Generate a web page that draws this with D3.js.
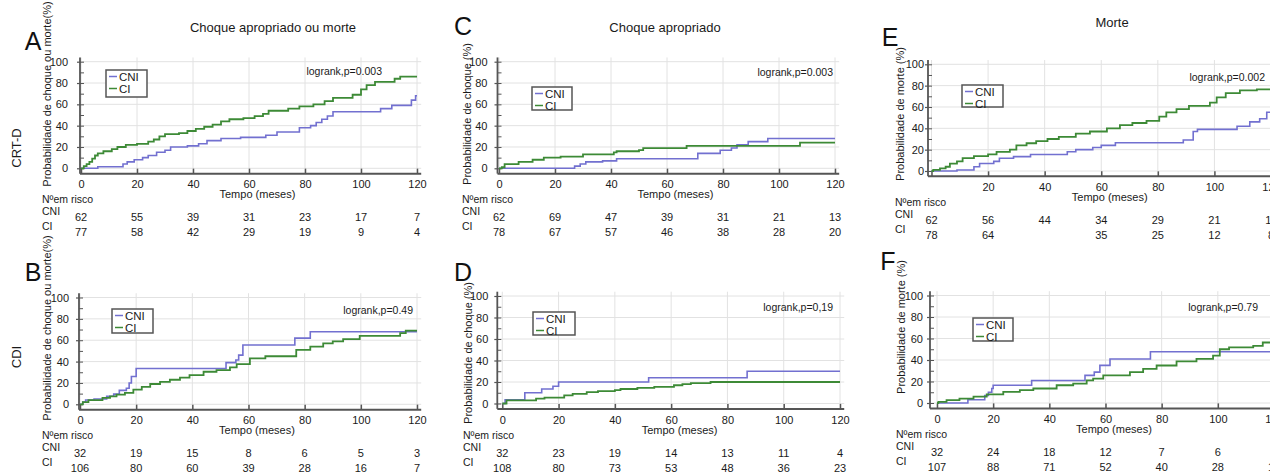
<!DOCTYPE html>
<html>
<head>
<meta charset="utf-8">
<script src="https://cdn.jsdelivr.net/npm/d3@7"></script>
<style>
  body { margin: 0; background: #fff; }
  svg { font-family: "Liberation Sans", Arial, Helvetica, sans-serif; }
</style>
</head>
<body>
<script>
// tick values
var months = [0, 20, 40, 60, 80, 100, 120];
var yTicks = [0, 20, 40, 60, 80, 100];

// step curves [month, %]
// A - CRT-D, choque apropriado ou morte
var cniA = [[0,0],[6,1.5],[15,4],[16.5,6],[19,8],[22,10],[24,12],[27,15],[30,17],[32,20],[38,21],[42,23],[45,26],[50,28],[57,29],[66,31],[70,34],[78,38],[82,40],[84,43],[86,46],[88,49],[90,53],[107,56],[111,59],[118,64],[119.5,68],[120,68]];
var ciA = [[0,0],[1,2],[2,4],[3,6],[4,9],[5,12],[6,14],[8,16],[11,18],[13,20],[16,22],[20,23],[24,25],[26,27],[28,30],[30,32],[35,33],[38,35],[41,37],[44,39],[47,41],[50,44],[53,46],[58,47],[62,49],[65,51],[67,54],[74,56],[78,58],[83,60],[87,63],[90,66],[97,69],[100,74],[102,78],[105,81],[112,84],[114,86],[120,86]];
// C - CRT-D, choque apropriado
var cniC = [[0,0],[27,2],[29,4],[31,6],[37,7],[42,9],[71,14],[79,17],[83,19],[85,22],[89,25],[96,28],[120,28]];
var ciC = [[0,0],[1,1],[2,4],[7,6],[12,8],[16,10],[22,11],[30,13],[41,15],[42,16],[50,17],[51.5,19],[67,21],[107.5,24],[120,24]];
// E - CRT-D, morte
var cniE = [[0,0],[9,1],[15,4],[17,7],[22,9],[24,12],[29,13.5],[35,15.5],[48,18],[51,20],[57,22],[60,24],[65,26.5],[89,29],[92.5,37],[94,39],[108,42],[112.5,46],[116,49],[118.5,55],[120,55]];
var ciE = [[0,0],[0.6,1],[3,2.5],[5,4],[6.5,7],[9,9],[11,12],[15,14],[20,15.5],[23,18],[27.7,20],[30,24],[33.6,26],[37,28],[41,30],[45,32],[51,35],[56,37],[62,40],[66.6,43],[71,45],[76,47],[80.5,51],[83,55],[86.6,58],[91,61],[98.4,64],[100.8,69],[104,73],[109,75.5],[115,76.5],[120,76.5]];
// B - CDI, choque apropriado ou morte
var cniB = [[0,0],[1,2],[2,4],[5,5],[9.5,7.5],[12,9.5],[14,13],[16.5,15],[17.5,20],[18.3,26],[20,33.5],[52,39],[55.5,41.5],[56.5,46],[58,55.5],[76.5,62],[82,68],[120,68]];
var ciB = [[0,0],[1,2],[3,4],[8,6],[10.7,7.5],[13,9],[16,10.7],[19,13.8],[22,16.3],[25,19],[28.5,21],[32,23],[35.6,25],[39,27.4],[44,30.5],[48.6,32],[53.4,34.6],[55.8,37.7],[60.5,43],[66,45],[77,51],[82,54],[86.6,57],[90,59],[93.7,61],[99.6,64],[114,66.7],[116,69],[120,69]];
// D - CDI, choque apropriado
var cniD = [[0,0],[1,3.5],[8,10],[14,13.5],[18,16],[20,20],[52,24],[87,30],[120,30]];
var ciD = [[0,0],[1.5,3],[12,4.5],[15,5.5],[22,7.5],[25,9],[30,10.5],[34,11.5],[40,12.5],[42,13.5],[48,14.5],[54,15.5],[61,17],[64,18],[67,19],[74,20],[120,20]];
// F - CDI, morte
var cniF = [[0,0],[11,3],[17,7],[18.3,10],[19.5,13.5],[20,16.5],[33.7,21],[52.7,25.7],[56,28.7],[58,35],[61.6,41],[76,47.7],[120,47.7]];
var ciF = [[0,0],[0.5,1],[3.4,2.7],[8,4],[13,6],[17.7,8],[23.6,10.4],[29.5,12],[34.3,13.5],[42.6,16.5],[48.5,18],[53.3,21],[55.6,22.6],[59.2,25.7],[68.7,28.7],[73.4,31.8],[78.2,34.9],[85.3,38.8],[92.4,41],[98.3,44],[100.7,50],[104,51.7],[112.6,53.2],[116,56.3],[120,56.3]];

// numbers at risk (at months 0..120)
var riskCniA = [62, 55, 39, 31, 23, 17, 7];
var riskCiA  = [77, 58, 42, 29, 19, 9, 4];
var riskCniC = [62, 69, 47, 39, 31, 21, 13];
var riskCiC  = [78, 67, 57, 46, 38, 28, 20];
var riskCniE = [62, 56, 44, 34, 29, 21, 11];
var riskCiE  = [78, 64, null, 35, 25, 12, 8];
var riskCniB = [32, 19, 15, 8, 6, 5, 3];
var riskCiB  = [106, 80, 60, 39, 28, 16, 7];
var riskCniD = [32, 23, 19, 14, 13, 11, 4];
var riskCiD  = [108, 80, 73, 53, 48, 36, 23];
var riskCniF = [32, 24, 18, 12, 7, 6, 1];
var riskCiF  = [107, 88, 71, 52, 40, 28, 14];

var colCNI = "#7270d0";
var colCI = "#3d8a36";
var axisCol = "#555";
var txtCol = "#1a1a1a";

// layout of the six panels
var panels = [
  { letter: "A", cni: cniA, ci: ciA, rCni: riskCniA, rCi: riskCiA,
    x0: 81, x1: 417, y0: 168.3, y1: 61.7, axOff: 1, gap: 12,
    title: "Choque apropriado ou morte", tx: 273, ty: 27, lx: 33, ly: 41,
    ylab: "Probabilidade de choque ou morte(%)", ylx: 47, yly: 94,
    group: "CRT-D", gy: 148, leg: [106, 70, 41, 27], p: "logrank,p=0.003", px: 382, py: 71 },
  { letter: "C", cni: cniC, ci: ciC, rCni: riskCniC, rCi: riskCiC,
    x0: 499, x1: 835, y0: 168.3, y1: 61.7, axOff: 1.5, gap: 10,
    title: "Choque apropriado", tx: 665, ty: 27, lx: 463, ly: 26,
    ylab: "Probabilidade de choque (%)", ylx: 467, yly: 114,
    leg: [532, 87, 40, 23], p: "logrank,p=0.003", px: 833, py: 72 },
  { letter: "E", cni: cniE, ci: ciE, rCni: riskCniE, rCi: riskCiE,
    x0: 931.5, x1: 1271, y0: 171, y1: 64.3, axOff: 3.5, gap: 4, hide0: true,
    title: "Morte", tx: 1112, ty: 22, lx: 890, ly: 37,
    ylab: "Probabilidade de morte (%)", ylx: 900, yly: 114,
    leg: [962, 85, 41, 22], p: "logrank,p=0.002", px: 1265, py: 77 },
  { letter: "B", cni: cniB, ci: ciB, rCni: riskCniB, rCi: riskCiB,
    x0: 80, x1: 417, y0: 404.3, y1: 297.5, axOff: 1, gap: 10,
    lx: 33, ly: 272,
    ylab: "Probabilidade de choque ou morte(%)", ylx: 47, yly: 328,
    group: "CDI", gy: 357, leg: [112, 309, 41, 24], p: "logrank,p=0.49", px: 413, py: 310 },
  { letter: "D", cni: cniD, ci: ciD, rCni: riskCniD, rCi: riskCiD,
    x0: 502.3, x1: 840, y0: 403.5, y1: 296, axOff: 5, gap: 9,
    lx: 463, ly: 272,
    ylab: "Probabilidade de choque (%)", ylx: 468, yly: 353,
    leg: [533, 312, 42, 23], p: "logrank,p=0,19", px: 833, py: 307 },
  { letter: "F", cni: cniF, ci: ciF, rCni: riskCniF, rCi: riskCiF,
    x0: 937, x1: 1274, y0: 403, y1: 295.5, axOff: 7, gap: 7,
    lx: 888, ly: 261,
    ylab: "Probabilidade de morte (%)", ylx: 901, yly: 327,
    leg: [973, 318, 40, 23], p: "logrank,p=0.79", px: 1258, py: 307 }
];

var svg = d3.select("body").append("svg")
    .attr("width", 1270)
    .attr("height", 475);

panels.forEach(function (P) {
    var x = d3.scaleLinear().domain([0, 120]).range([P.x0, P.x1]);
    var y = d3.scaleLinear().domain([0, 100]).range([P.y0, P.y1]);
    var g = svg.append("g");
    var axX = x(0) - P.axOff;
    var xEnd = x(121.5);
    var yBot = y(-5), yTop = y(104);

    // grid
    g.selectAll(".gx").data(months).enter().append("line")
        .attr("x1", function (d) { return x(d); }).attr("x2", function (d) { return x(d); })
        .attr("y1", yBot).attr("y2", yTop)
        .attr("stroke", "#e2e2e2").attr("stroke-width", 1);
    g.selectAll(".gy").data(yTicks).enter().append("line")
        .attr("x1", axX).attr("x2", xEnd)
        .attr("y1", function (d) { return y(d); }).attr("y2", function (d) { return y(d); })
        .attr("stroke", "#e2e2e2").attr("stroke-width", 1);

    // x axis
    var gx = g.append("g").attr("transform", "translate(0," + yBot + ")")
        .call(d3.axisBottom(x).tickValues(months).tickSizeInner(-5).tickSizeOuter(0).tickPadding(7)
            .tickFormat(function (d) { return (P.hide0 && d === 0) ? "" : d; }));
    gx.select(".domain").remove();
    gx.selectAll("line").attr("stroke", axisCol).attr("stroke-width", 1.5);
    gx.selectAll("text").attr("font-size", 11).attr("fill", txtCol).attr("font-family", null);

    // y axis, major + minor
    var tl = Math.min(3, P.gap - 1);
    var gy = g.append("g").attr("transform", "translate(" + axX + ",0)")
        .call(d3.axisLeft(y).tickValues(yTicks).tickSizeInner(tl).tickSizeOuter(0).tickPadding(P.gap - tl));
    gy.select(".domain").remove();
    gy.selectAll("line").attr("stroke", axisCol).attr("stroke-width", 1.2);
    gy.selectAll("text").attr("font-size", 11).attr("fill", txtCol).attr("font-family", null);
    var gm = g.append("g").attr("transform", "translate(" + axX + ",0)")
        .call(d3.axisLeft(y).tickValues(d3.range(0, 101, 10)).tickSizeInner(-4).tickSizeOuter(0).tickFormat(""));
    gm.select(".domain").remove();
    gm.selectAll("line").attr("stroke", axisCol).attr("stroke-width", 1);

    g.append("line").attr("x1", axX).attr("x2", xEnd).attr("y1", yBot).attr("y2", yBot)
        .attr("stroke", axisCol).attr("stroke-width", 2);
    g.append("line").attr("x1", axX).attr("x2", axX).attr("y1", yBot).attr("y2", yTop)
        .attr("stroke", axisCol).attr("stroke-width", 1.8);

    // curves
    var line = d3.line()
        .x(function (d) { return x(d[0]); })
        .y(function (d) { return y(d[1]); })
        .curve(d3.curveStepAfter);
    g.append("path").datum(P.cni).attr("d", line)
        .attr("fill", "none").attr("stroke", colCNI).attr("stroke-width", 1.6);
    g.append("path").datum(P.ci).attr("d", line)
        .attr("fill", "none").attr("stroke", colCI).attr("stroke-width", 1.8);

    // legend
    var L = P.leg;
    g.append("rect").attr("x", L[0]).attr("y", L[1]).attr("width", L[2]).attr("height", L[3])
        .attr("fill", "#fff").attr("stroke", axisCol).attr("stroke-width", 1.5);
    [["CNI", colCNI], ["CI", colCI]].forEach(function (it, i) {
        var yy = L[1] + 6.5 + i * 12;
        g.append("line").attr("x1", L[0] + 3).attr("x2", L[0] + 11).attr("y1", yy).attr("y2", yy)
            .attr("stroke", it[1]).attr("stroke-width", 1.5);
        g.append("text").attr("x", L[0] + 13).attr("y", yy + 4).attr("font-size", 11.5)
            .attr("fill", txtCol).text(it[0]);
    });

    // p value
    g.append("text").attr("x", P.px).attr("y", P.py + 4).attr("text-anchor", "end")
        .attr("font-size", 10.5).attr("fill", txtCol).text(P.p);

    // axis titles
    g.append("text").attr("x", x(63)).attr("y", P.y0 + 30).attr("text-anchor", "middle")
        .attr("font-size", 11).attr("fill", txtCol).text("Tempo (meses)");
    g.append("text").attr("transform", "translate(" + (P.ylx + 4) + "," + P.yly + ") rotate(-90)")
        .attr("text-anchor", "middle").attr("font-size", 11).attr("fill", txtCol).text(P.ylab);

    if (P.title) {
        g.append("text").attr("x", P.tx).attr("y", P.ty + 4.5).attr("text-anchor", "middle")
            .attr("font-size", 13).attr("fill", txtCol).text(P.title);
    }
    g.append("text").attr("x", P.lx).attr("y", P.ly + 9).attr("text-anchor", "middle")
        .attr("font-size", 25).attr("fill", "#111").text(P.letter);
    if (P.group) {
        g.append("text").attr("transform", "translate(21," + P.gy + ") rotate(-90)")
            .attr("text-anchor", "middle").attr("font-size", 13).attr("fill", txtCol).text(P.group);
    }

    // numbers at risk
    var tx0 = P.ylx - 5;
    g.append("text").attr("x", tx0).attr("y", P.y0 + 35).attr("font-size", 10.5).attr("fill", txtCol).text("Nºem risco");
    g.append("text").attr("x", tx0).attr("y", P.y0 + 47).attr("font-size", 10.5).attr("fill", txtCol).text("CNI");
    g.append("text").attr("x", tx0).attr("y", P.y0 + 62).attr("font-size", 10.5).attr("fill", txtCol).text("CI");
    g.selectAll(".rc").data(P.rCni).enter().append("text")
        .attr("x", function (d, i) { return x(months[i]); })
        .attr("y", P.y0 + 53).attr("text-anchor", "middle")
        .attr("font-size", 11).attr("fill", txtCol).text(function (d) { return d === null ? "" : d; });
    g.selectAll(".ri").data(P.rCi).enter().append("text")
        .attr("x", function (d, i) { return x(months[i]); })
        .attr("y", P.y0 + 68).attr("text-anchor", "middle")
        .attr("font-size", 11).attr("fill", txtCol).text(function (d) { return d === null ? "" : d; });
});
</script>
</body>
</html>
